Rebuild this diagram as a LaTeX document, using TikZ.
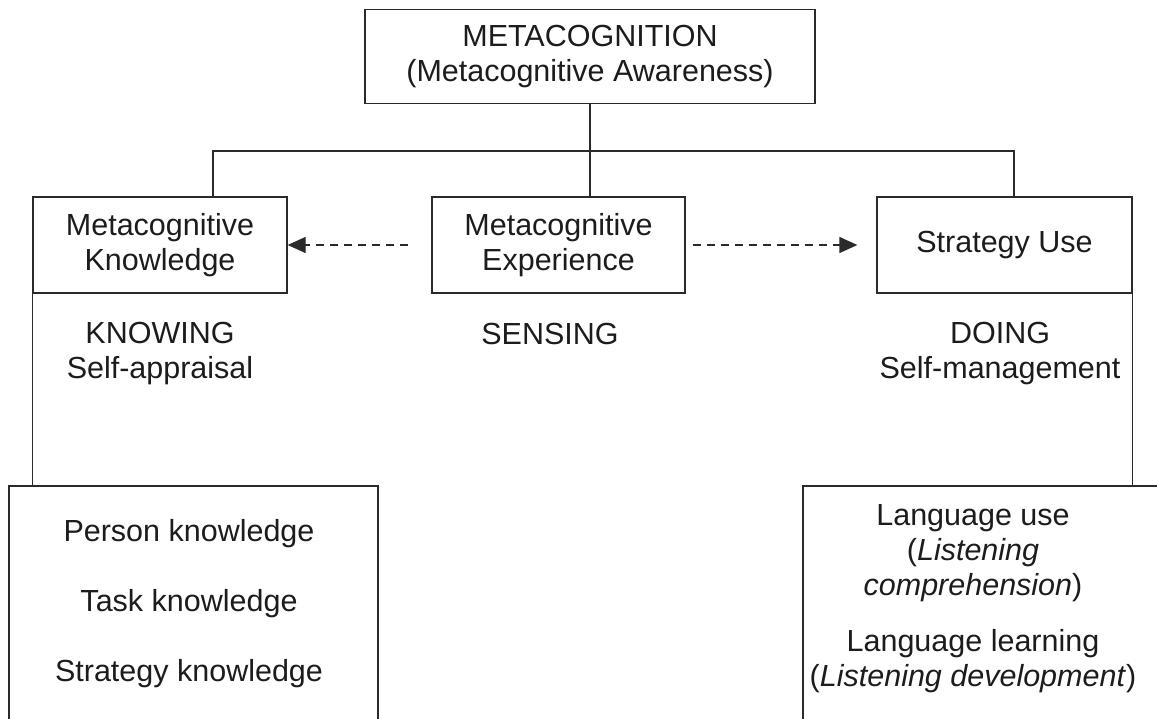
\documentclass[tikz,border=0pt]{standalone}
\usepackage{fontspec}
\setmainfont{Liberation Sans}
\usetikzlibrary{arrows.meta}
\definecolor{ink}{HTML}{2A2A2A}
\definecolor{type}{HTML}{1C1C1C}
\begin{document}
\begin{tikzpicture}[x=1pt,y=-1pt,
  every node/.style={font=\fontsize{30.5}{35}\selectfont, text=type},
  box/.style={draw=ink, line width=1.3pt, inner sep=0pt, align=center},
  caption/.style={inner sep=0pt, align=center},
  link/.style={draw=ink, line width=1.3pt},
  dasharrow/.style={link, dash pattern=on 8pt off 6pt,
    -{Triangle[length=18pt,width=16pt]}},
]
\useasboundingbox (0,0) rectangle (1157,719);
\clip (0,0) rectangle (1157,719);

% top level
\node[box, minimum width=450pt, minimum height=93.5pt] (meta) at (590,56.5)
  {METACOGNITION\\(Metacognitive Awareness)};

% second level
\node[box, minimum width=254pt, minimum height=96pt] (know) at (160,245)
  {Metacognitive\\Knowledge};
\node[box, minimum width=253pt, minimum height=96pt] (exp) at (558.5,245)
  {Metacognitive\\Experience};
\node[box, minimum width=255pt, minimum height=96pt] (use) at (1004.5,245)
  {Strategy Use};

% captions under the second level
\node[caption] (knowing) at (160,354) {KNOWING\\Self-appraisal};
\node[caption] (sensing) at (550,333.6) {SENSING};
\node[caption] (doing) at (1000,354) {DOING\\Self-management};

% bottom boxes (running past the lower edge)
\node[box, minimum width=369pt, minimum height=260pt] (pk) at (193.5,616) {};
\node[caption] (pktext) at (189,603.6)
  {Person knowledge\\[35pt]Task knowledge\\[35pt]Strategy knowledge};
\node[box, minimum width=372pt, minimum height=260pt] (lu) at (989,616) {};
\node[caption] (lutext) at (973,599)
  {Language use\\(\textit{Listening}\\\textit{comprehension})\\[21pt]%
   Language learning\\(\textit{Listening development})};

% tree connectors
\coordinate (bus) at (590,151);
\draw[link] (meta.south) -- (bus);
\draw[link] ([xshift=53pt]know.north) |- (bus) -| ([xshift=9.5pt]use.north);
\draw[link] (bus) -- (bus |- exp.north);

% side connectors to the bottom boxes
\draw[link] (know.south west) -- (know.south west |- pk.north);
\draw[link] (use.south east) -- (use.south east |- lu.north);

% dashed arrows from the experience box
\draw[dasharrow] ([xshift=-23pt]exp.west) -- (know.east);
\draw[dasharrow] ([xshift=7pt]exp.east) -- ([xshift=-19pt]use.west);
\end{tikzpicture}
\end{document}
